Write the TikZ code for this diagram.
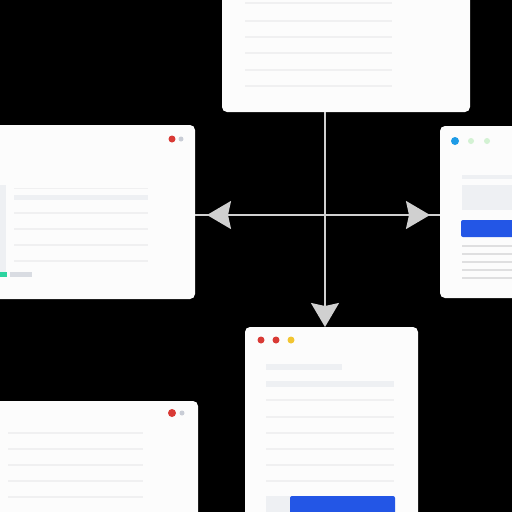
\documentclass[tikz,border=0pt]{standalone}
\usetikzlibrary{arrows.meta}
\definecolor{cardc}{HTML}{FCFCFC}
\definecolor{rulec}{HTML}{F0F0F1}
\definecolor{barc}{HTML}{EEF0F3}
\definecolor{connc}{HTML}{D0D0D0}
\definecolor{btnblue}{HTML}{2356E6}
\definecolor{dotred}{HTML}{D93A35}
\definecolor{dotyel}{HTML}{F2C531}
\definecolor{dotgray}{HTML}{C9CDD6}
\definecolor{dotblue}{HTML}{1E9BE6}
\definecolor{dotgreen}{HTML}{D3F2D3}
\definecolor{teal}{HTML}{2DD4A0}
\begin{document}
\begin{tikzpicture}[x=1pt,y=-1pt,
  card/.style={draw=none,fill=cardc,rounded corners=5pt,inner sep=0pt,outer sep=0pt},
  rl/.style={draw=rulec,line width=1.6pt},
  bar/.style={fill=barc,draw=none},
  connline/.style={draw=connc,line width=2pt},
  connarrow/.style={draw=connc,line width=2pt,-{Stealth[length=24pt,width=28pt,inset=3pt,fill=connc]}}]
\useasboundingbox (0,0) rectangle (512,512);
\clip (0,0) rectangle (512,512);
\fill[black] (0,0) rectangle (512,512);
% cards
\node[card,minimum width=248pt,minimum height=120pt] (top) at (346,52) {};
\node[card,minimum width=205pt,minimum height=174pt] (left) at (92.5,212) {};
\node[card,minimum width=90pt,minimum height=172pt] (right) at (485,212) {};
\node[card,minimum width=173pt,minimum height=203pt] (botc) at (331.5,428.5) {};
\node[card,minimum width=208pt,minimum height=129pt] (botl) at (94,465.5) {};
% connectors
\coordinate (cx) at (325,215);
\draw[connarrow] (cx |- top.south) -- (cx |- botc.north);
\draw[connline] (left.east |- cx) -- (right.west |- cx);
\draw[connarrow] (cx) -- ([xshift=12pt]left.east |- cx);
\draw[connarrow] (cx) -- ([xshift=-10pt]right.west |- cx);
% top card lines
\foreach \y in {3,21,37,53,70,86} \draw[rl] (245,\y) -- (392,\y);
% left card
\fill[dotred] (172,139) circle (3.5);
\fill[dotgray] (181,139) circle (2.5);
\fill[barc] (0,185) rectangle (6,275);
\draw[rl,line width=1pt] (14,188) -- (148,188);
\fill[barc] (14,194.5) rectangle (148,199.5);
\foreach \y in {213,229,245,261} \draw[rl] (14,\y) -- (148,\y);
\fill[teal] (0,272) rectangle (7,277);
\fill[dotgray!70] (10,272) rectangle (32,277);
% right card
\fill[dotblue] (455,141) circle (4);
\fill[dotgreen] (471,141) circle (3);
\fill[dotgreen] (487,141) circle (3);
\fill[barc] (462,175) rectangle (512,179);
\fill[barc] (462,185) rectangle (512,210);
\fill[btnblue,rounded corners=2pt] (461,220) rectangle (520,237);
\foreach \y in {246,254,262,270,278} \draw[rl,draw=rulec!85!gray] (462,\y) -- (512,\y);
% bottom centre card
\fill[dotred] (261,340) circle (3.5);
\fill[dotred] (276,340) circle (3.5);
\fill[dotyel] (291,340) circle (3.5);
\fill[barc] (266,364) rectangle (342,370);
\fill[barc] (266,381) rectangle (394,387);
\foreach \y in {400,417,433,449,465,481} \draw[rl] (266,\y) -- (394,\y);
\fill[barc] (266,496) rectangle (290,515);
\fill[btnblue,rounded corners=2pt] (290,496) rectangle (395,520);
% bottom left card
\fill[dotred] (172,413) circle (4);
\fill[dotgray] (182,413) circle (2.5);
\foreach \y in {433,449,465,481,497} \draw[rl] (8,\y) -- (143,\y);
\end{tikzpicture}
\end{document}
